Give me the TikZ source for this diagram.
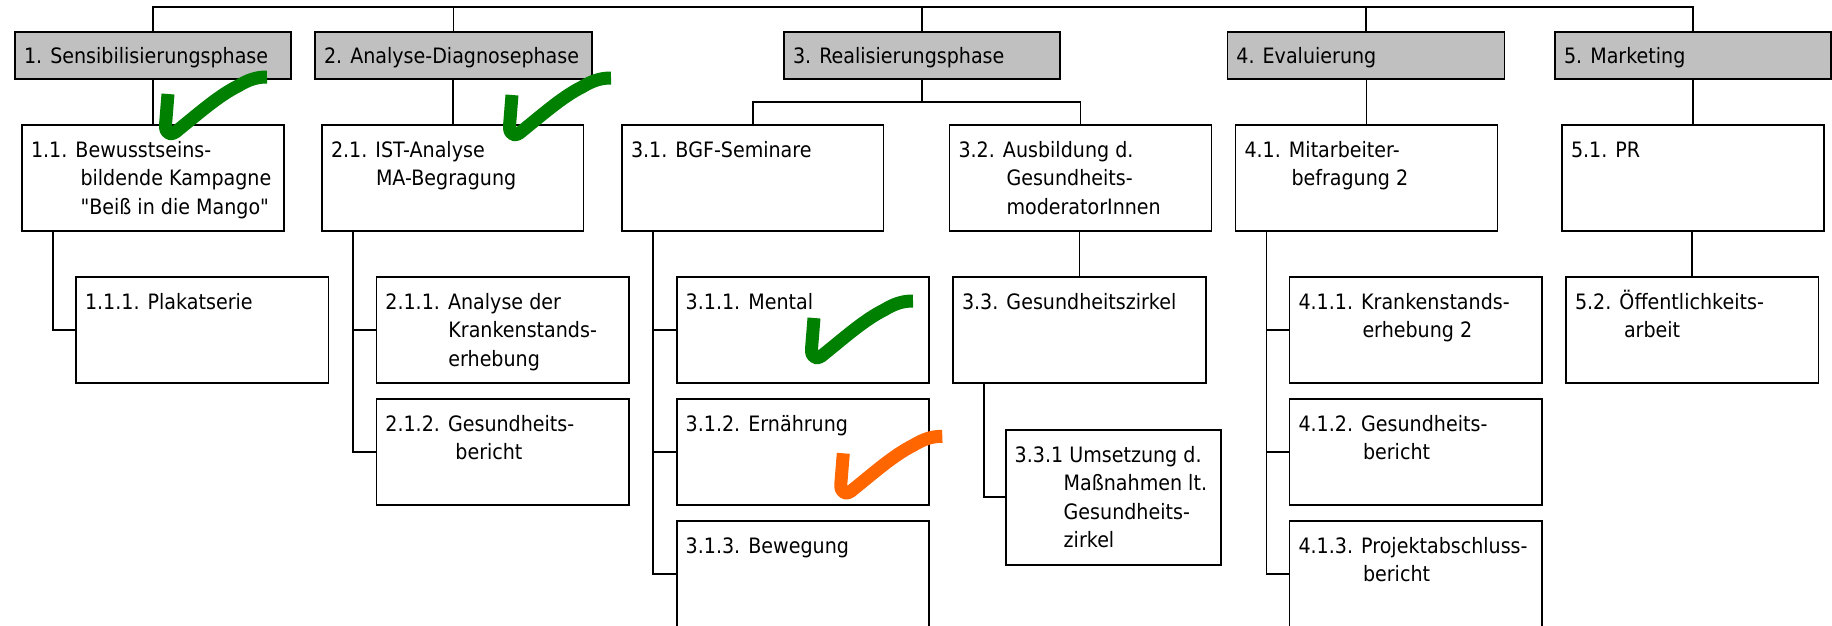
\documentclass[tikz,border=0pt]{standalone}
\usepackage{fontspec}
\newfontfamily\wbsfont{DejaVu Sans}[FakeStretch=0.9]
\definecolor{phasegray}{RGB}{192,192,192}
\definecolor{chkgreen}{RGB}{0,128,0}
\definecolor{chkorange}{RGB}{255,102,0}
\tikzset{
  box/.style={draw=black, line width=1.7pt, fill=white, inner sep=0pt, outer sep=0pt, anchor=north west, rectangle},
  phase/.style={box, fill=phasegray},
  txt/.style={anchor=base west, inner sep=0pt, outer sep=0pt, font=\wbsfont\fontsize{21.2}{28.5}\selectfont},
  conn/.style={draw=black, line width=1.8pt},
  pics/tick/.style={code={\draw[draw=#1, line width=13pt, line cap=butt, line join=round]
     (0,0) -- (-2.5,31) .. controls (-3,41) and (4,42) .. (10,36)
     .. controls (30,20) and (50,2) .. (70,-8) .. controls (80,-14) and (88,-17) .. (99,-17);}},
}
\newcommand\wbsnl[1]{\\\hspace*{#1pt}}
\newcommand\wbs[7]{%
  \node[#1, minimum width=#5pt, minimum height=#6pt] (#2) at (#3,#4) {};
  \node[txt] (#2t) at ([xshift=9pt,yshift=-32pt]#2.north west) {\parbox[t]{300pt}{#7}};
}
\begin{document}
\begin{tikzpicture}[x=1pt,y=-1pt]
\useasboundingbox (0,0) rectangle (1832,625);
\clip (0,0) rectangle (1832,625);
\fill[white] (0,0) rectangle (1832,625);

% level 1
\wbs{phase}{b1}{15}{31.7}{276}{47.6}{1. Sensibilisierungsphase}
\wbs{phase}{b2}{315}{31.7}{277}{47.6}{2. Analyse-Diagnosephase}
\wbs{phase}{b3}{784}{31.7}{276}{47.6}{3. Realisierungsphase}
\wbs{phase}{b4}{1227.4}{31.7}{277}{47.6}{4. Evaluierung}
\wbs{phase}{b5}{1555}{31.7}{276}{47.6}{5. Marketing}

% level 2
\wbs{box}{b11}{22}{125.3}{262}{105.7}{1.1. Bewusstseins-\wbsnl{49.5}bildende Kampagne\wbsnl{49.5}"Beiß in die Mango"}
\wbs{box}{b21}{322}{125.3}{261.5}{105.7}{2.1. IST-Analyse\wbsnl{45}MA-Begragung}
\wbs{box}{b31}{622}{125.3}{261.5}{105.7}{3.1. BGF-Seminare}
\wbs{box}{b32}{949.5}{125.3}{262}{105.7}{3.2. Ausbildung d.\wbsnl{48}Gesundheits-\wbsnl{48}moderatorInnen}
\wbs{box}{b41}{1235.5}{125.3}{262}{105.7}{4.1. Mitarbeiter-\wbsnl{47}befragung 2}
\wbs{box}{b51}{1562}{125.3}{262}{105.7}{5.1. PR}

% level 3
\wbs{box}{b111}{76}{277.3}{252.6}{106}{1.1.1. Plakatserie}
\wbs{box}{b211}{376.4}{277.3}{252.6}{106}{2.1.1. Analyse der\wbsnl{63}Krankenstands-\wbsnl{63}erhebung}
\wbs{box}{b212}{376.4}{399.3}{252.6}{106}{2.1.2. Gesundheits-\wbsnl{70}bericht}
\wbs{box}{b311}{676.7}{277.3}{252.6}{106}{3.1.1. Mental}
\wbs{box}{b312}{676.7}{399.3}{252.6}{106}{3.1.2. Ernährung}
\wbs{box}{b313}{676.7}{521}{252.6}{106}{3.1.3. Bewegung}
\wbs{box}{b33}{953}{277.3}{253}{106}{3.3. Gesundheitszirkel}
\wbs{box}{b331}{1005.7}{430}{215}{134.7}{3.3.1 Umsetzung d.\wbsnl{49}Maßnahmen lt.\wbsnl{49}Gesundheits-\wbsnl{49}zirkel}
\wbs{box}{b411}{1289.5}{277.3}{252.6}{106}{4.1.1. Krankenstands-\wbsnl{64}erhebung 2}
\wbs{box}{b412}{1289.5}{399.3}{252.6}{106}{4.1.2. Gesundheits-\wbsnl{64.5}bericht}
\wbs{box}{b413}{1289.5}{521}{252.6}{106}{4.1.3. Projektabschluss-\wbsnl{64.5}bericht}
\wbs{box}{b52}{1566}{277.3}{252.6}{106}{5.2. Öffentlichkeits-\wbsnl{49}arbeit}

% connectors
\coordinate (bus) at (0,7.3);
\draw[conn] (b1.north) |- (b5.north |- bus) -- (b5.north);
\draw[conn] (b2.north) -- (b2.north |- bus);
\draw[conn] (b3.north) -- (b3.north |- bus);
\draw[conn] (b4.north) -- (b4.north |- bus);

\draw[conn] (b1.south) -- (b1.south |- b11.north);
\draw[conn] (b21.north) -- (b21.north |- b2.south);
\draw[conn] (b3.south) -- ++(0,22.4) coordinate (h3) -| (b31.north);
\draw[conn] (h3) -| (b32.north);
\draw[conn] (b41.north) -- (b41.north |- b4.south);
\draw[conn] (b51.north) -- (b51.north |- b5.south);

\draw[conn] ([xshift=30.6pt]b11.south west) |- (b111.west);
\draw[conn] ([xshift=31pt]b21.south west) |- (b212.west);
\draw[conn] ([xshift=31pt]b21.south west |- b211.west) -- (b211.west);
\draw[conn] ([xshift=31.3pt]b31.south west) |- (b313.west);
\draw[conn] ([xshift=31.3pt]b31.south west |- b311.west) -- (b311.west);
\draw[conn] ([xshift=31.3pt]b31.south west |- b312.west) -- (b312.west);
\draw[conn] (b33.north) -- (b33.north |- b32.south);
\draw[conn] ([xshift=30.7pt]b33.south west) |- (b331.west);
\draw[conn] ([xshift=31pt]b41.south west) |- (b413.west);
\draw[conn] ([xshift=31pt]b41.south west |- b411.west) -- (b411.west);
\draw[conn] ([xshift=31pt]b41.south west |- b412.west) -- (b412.west);
\draw[conn] (b52.north) -- (b52.north |- b51.south);

% check marks
\pic at (168,94) {tick=chkgreen};
\pic at (512,95) {tick=chkgreen};
\pic at (814,318) {tick=chkgreen};
\pic at (843.3,453.3) {tick=chkorange};
\end{tikzpicture}
\end{document}
